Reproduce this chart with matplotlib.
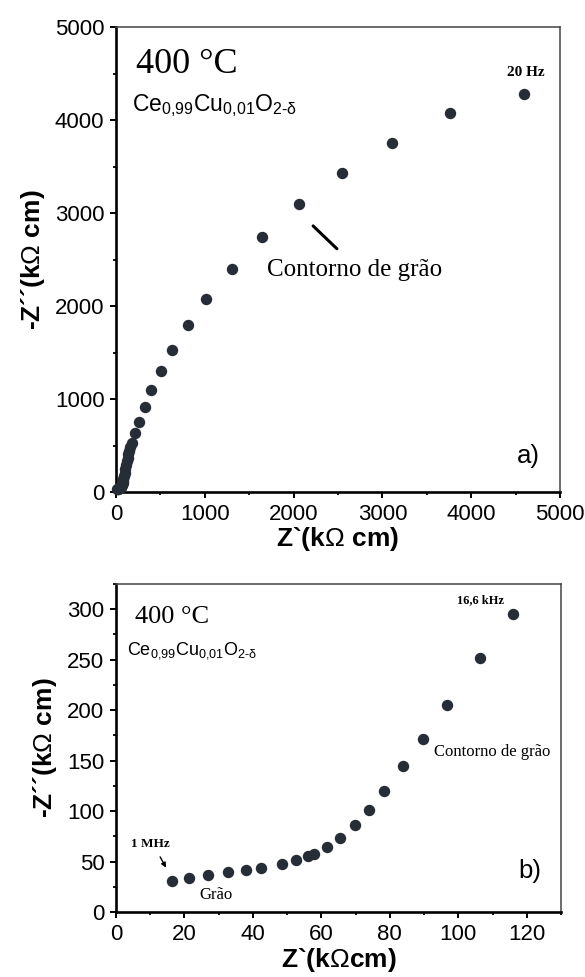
import matplotlib
matplotlib.use('Agg')
import matplotlib.pyplot as plt
from matplotlib.ticker import MultipleLocator

plt.rcParams['font.family'] = ['Liberation Sans', 'DejaVu Sans']
plt.rcParams['mathtext.fontset'] = 'custom'
plt.rcParams['mathtext.rm'] = 'Liberation Sans'
plt.rcParams['mathtext.it'] = 'Liberation Sans'
plt.rcParams['mathtext.bf'] = 'Liberation Sans'

# ── dados: painel a) (400 °C, espectro completo) ──────
za_re = [16.5, 21.4, 26.8, 32.8, 38.1, 42.5, 48.4, 52.7, 56.0, 57.9,
         61.5, 65.5, 69.7, 74.0, 78.4, 83.7, 89.6, 96.6, 106.3, 116.0,
         124, 131, 139, 150, 162, 177, 214, 259, 327, 394, 507, 627,
         808, 1013, 1305, 1649, 2059, 2540, 3113, 3757, 4594]
za_im = [30.5, 33.8, 36.7, 40.0, 42.0, 44.0, 47.3, 51.3, 55.2, 57.9,
         64.8, 73.4, 86.6, 101.4, 120.3, 145, 171.5, 205.3, 251.5, 295,
         335, 370, 405, 444, 487, 527, 634, 756, 917, 1100, 1301, 1530,
         1799, 2075, 2397, 2739, 3099, 3431, 3752, 4073, 4280]

# ── dados: painel b) (zoom alta frequência) ───────────
zb_re = [16.5, 21.4, 26.8, 32.8, 38.1, 42.5, 48.4, 52.7, 56.0, 57.9,
         61.5, 65.5, 69.7, 74.0, 78.4, 83.7, 89.6, 96.6, 106.3, 116.0]
zb_im = [30.5, 33.8, 36.7, 40.0, 42.0, 44.0, 47.3, 51.3, 55.2, 57.9,
         64.8, 73.4, 86.6, 101.4, 120.3, 145, 171.5, 205.3, 251.5, 295]

DOT = '#262d37'
SERIF = ['Liberation Serif', 'DejaVu Serif']
formula = r'Ce$_{\text{0,99}}$Cu$_{\text{0,01}}$O$_{\text{2-}\mathrm{\delta}}$'
ylab = r'-Z´´(k$\mathrm{\Omega}$ cm)'

fig = plt.figure(figsize=(5.85, 9.77), dpi=100, facecolor='white')
ax1 = fig.add_axes([116/585, (977-492)/977, 444/585, 465/977])
ax2 = fig.add_axes([116/585, (977-912)/977, 445/585, 328/977])

def style(ax):
    for s in ['left', 'bottom']:
        ax.spines[s].set_linewidth(1.9)
        ax.spines[s].set_color('black')
    for s in ['top', 'right']:
        ax.spines[s].set_linewidth(1.1)
        ax.spines[s].set_color('#444444')
    ax.tick_params(which='major', direction='out', length=4.3, width=1.4,
                   labelsize=16, pad=4, top=False, right=False)
    ax.tick_params(which='minor', direction='out', length=2.3, width=1.3,
                   top=False, right=False)

# ── painel a) ─────────────────────────────────────────
ax1.plot(za_re, za_im, 'o', color=DOT, ms=7.2, mec=DOT, clip_on=False, zorder=3)
ax1.set_xlim(0, 5000); ax1.set_ylim(0, 5000)
ax1.xaxis.set_major_locator(MultipleLocator(1000))
ax1.xaxis.set_minor_locator(MultipleLocator(500))
ax1.yaxis.set_major_locator(MultipleLocator(1000))
ax1.yaxis.set_minor_locator(MultipleLocator(500))
style(ax1)
ax1.set_xlabel(r'Z`(k$\mathrm{\Omega}$ cm)', fontsize=19, fontweight='bold', labelpad=0)
ax1.set_ylabel(ylab, fontsize=19, fontweight='bold', labelpad=6)

ax1.text(225, 4502, '400 °C', family=SERIF, fontsize=26, va='baseline')
ax1.text(176, 4100, formula, fontsize=16.5, va='baseline')
ax1.text(4613, 4511, '20 Hz', family=SERIF, fontsize=11, fontweight='bold',
         ha='center', va='center')
ax1.text(1695, 2387, 'Contorno de grão', family=SERIF, fontsize=18, va='center')
ax1.annotate('', xy=(2197, 2882), xytext=(2510, 2595),
             arrowprops=dict(arrowstyle='-', lw=2.2, color='black'))
ax1.text(4640, 390, 'a)', fontsize=18.5, ha='center', va='center')

# ── painel b) ─────────────────────────────────────────
ax2.plot(zb_re, zb_im, 'o', color=DOT, ms=7.2, mec=DOT, zorder=3)
ax2.set_xlim(0, 130); ax2.set_ylim(0, 325)
ax2.xaxis.set_major_locator(MultipleLocator(20))
ax2.xaxis.set_minor_locator(MultipleLocator(10))
ax2.yaxis.set_major_locator(MultipleLocator(50))
ax2.yaxis.set_minor_locator(MultipleLocator(25))
style(ax2)
ax2.set_xlabel(r'Z`(k$\mathrm{\Omega}$cm)', fontsize=19, fontweight='bold', labelpad=1)
ax2.set_ylabel(ylab, fontsize=19, fontweight='bold', labelpad=6)

ax2.text(5.5, 286, '400 °C', family=SERIF, fontsize=19, va='baseline')
ax2.text(3.3, 255, formula, fontsize=13, va='baseline')
ax2.text(106.6, 309, '16,6 kHz', family=SERIF, fontsize=9, fontweight='bold',
         ha='center', va='center')
ax2.text(92.9, 159, 'Contorno de grão', family=SERIF, fontsize=12, va='center')
ax2.text(10.1, 67.3, '1 MHz', family=SERIF, fontsize=9.5, fontweight='bold',
         ha='center', va='center')
ax2.annotate('', xy=(15.0, 41.5), xytext=(12.5, 57),
             arrowprops=dict(arrowstyle='-|>', lw=1.0, color='black',
                             mutation_scale=7))
ax2.text(29.1, 17.2, 'Grão', family=SERIF, fontsize=12, ha='center', va='center')
ax2.text(121, 40.3, 'b)', fontsize=18.5, ha='center', va='center')

fig.savefig('out.png', dpi=100)
